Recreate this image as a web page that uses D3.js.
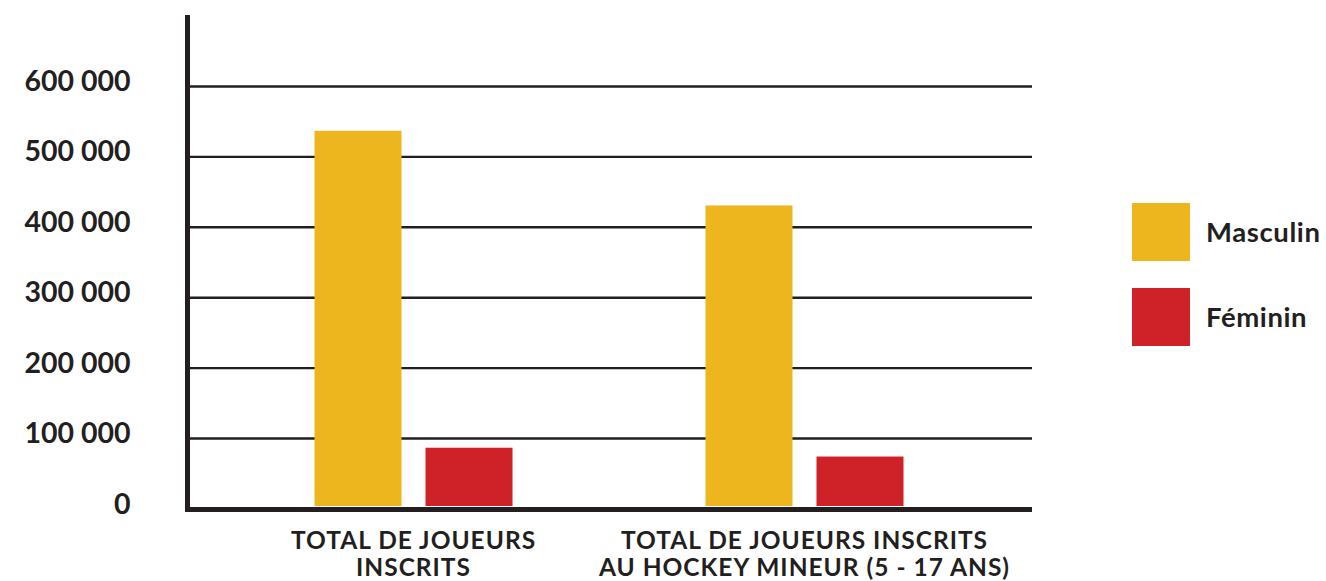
<!DOCTYPE html>
<html>
<head>
<meta charset="utf-8">
<script src="https://cdn.jsdelivr.net/npm/d3@7"></script>
<style>
  body { margin: 0; background: #fff; }
  svg text { font-family: Lato, "Open Sans", sans-serif; font-weight: 700; fill: #231f20; }
</style>
</head>
<body>
<div id="zone_graphique"></div>
<script>
// données
var categories = ["total", "mineur"];
var etiquettes = [
  ["TOTAL DE JOUEURS", "INSCRITS"],
  ["TOTAL DE JOUEURS INSCRITS", "AU HOCKEY MINEUR (5 - 17 ANS)"]
];
var series = ["Masculin", "Féminin"];
var masculin = [537000, 431000];
var feminin = [87000, 74500];
var graduations = [0, 100000, 200000, 300000, 400000, 500000, 600000];

var couleurs = {Masculin: "#edb51e", "Féminin": "#cf2128"};
var encre = "#231f20";

var largeur = 1326, hauteur = 581;

var svg = d3.select("#zone_graphique")
  .append("svg")
    .attr("width", largeur)
    .attr("height", hauteur);

// échelles
var y = d3.scaleLinear()
  .domain([0, 700000])
  .range([509, 16]);

var x = d3.scaleBand()
  .domain(categories)
  .range([218, 1000]);

var xSerie = d3.scaleBand()
  .domain(series)
  .range([96.5, 294.5])
  .paddingInner(0.2162);

var fr = d3.formatLocale({decimal: ",", thousands: " ", grouping: [3], currency: ["", ""]});
var format = fr.format(",d");

// lignes de grille
svg.append("g")
  .selectAll("line")
  .data(graduations.filter(function(d) { return d > 0; }))
  .enter()
  .append("line")
    .attr("x1", 190)
    .attr("x2", 1032)
    .attr("y1", function(d) { return y(d); })
    .attr("y2", function(d) { return y(d); })
    .attr("stroke", encre)
    .attr("stroke-width", 2.4);

// étiquettes de l'axe Y
var yAxis = svg.append("g")
  .attr("transform", "translate(187.5,0)")
  .call(d3.axisLeft(y).tickValues(graduations).tickSize(0).tickPadding(57).tickFormat(format));
yAxis.select(".domain").remove();
yAxis.selectAll("text")
  .attr("font-size", 28.5)
  .attr("font-family", null)
  .attr("dy", "0.14em")
  .attr("fill", encre);

// barres
var donnees = categories.map(function(c, i) {
  return {cat: c, valeurs: [{s: "Masculin", v: masculin[i]}, {s: "Féminin", v: feminin[i]}]};
});

svg.append("g")
  .selectAll("g")
  .data(donnees)
  .enter()
  .append("g")
    .attr("transform", function(d) { return "translate(" + x(d.cat) + ",0)"; })
  .selectAll("rect")
  .data(function(d) { return d.valeurs; })
  .enter()
  .append("rect")
    .attr("x", function(d) { return xSerie(d.s); })
    .attr("width", xSerie.bandwidth())
    .attr("y", function(d) { return y(d.v); })
    .attr("height", function(d) { return y(0) - 3 - y(d.v); })
    .attr("fill", function(d) { return couleurs[d.s]; });

// axes
svg.append("line")
  .attr("x1", 187.5).attr("x2", 187.5)
  .attr("y1", 15).attr("y2", 512)
  .attr("stroke", encre).attr("stroke-width", 5);
svg.append("line")
  .attr("x1", 185).attr("x2", 1032)
  .attr("y1", 509.5).attr("y2", 509.5)
  .attr("stroke", encre).attr("stroke-width", 5);

// étiquettes des catégories
var lab = svg.append("g")
  .selectAll("text")
  .data(donnees)
  .enter()
  .append("text")
    .attr("text-anchor", "middle")
    .attr("font-size", 24.5)
    .attr("letter-spacing", 1)
    .attr("x", function(d) { return x(d.cat) + x.bandwidth() / 2; })
    .attr("y", 549);
lab.selectAll("tspan")
  .data(function(d, i) { return etiquettes[i]; })
  .enter()
  .append("tspan")
    .attr("x", function() { return d3.select(this.parentNode).attr("x"); })
    .attr("dy", function(d, i) { return i === 0 ? 0 : 26.5; })
    .text(function(d) { return d; });

// légende
var legende = svg.append("g")
  .selectAll("g")
  .data(series)
  .enter()
  .append("g")
    .attr("transform", function(d, i) { return "translate(1132," + (203 + i * 85) + ")"; });
legende.append("rect")
  .attr("width", 58)
  .attr("height", 58)
  .attr("fill", function(d) { return couleurs[d]; });
legende.append("text")
  .attr("x", 74)
  .attr("y", 39)
  .attr("font-size", 27.5)
  .attr("letter-spacing", 0.6)
  .text(function(d) { return d; });
</script>
</body>
</html>
